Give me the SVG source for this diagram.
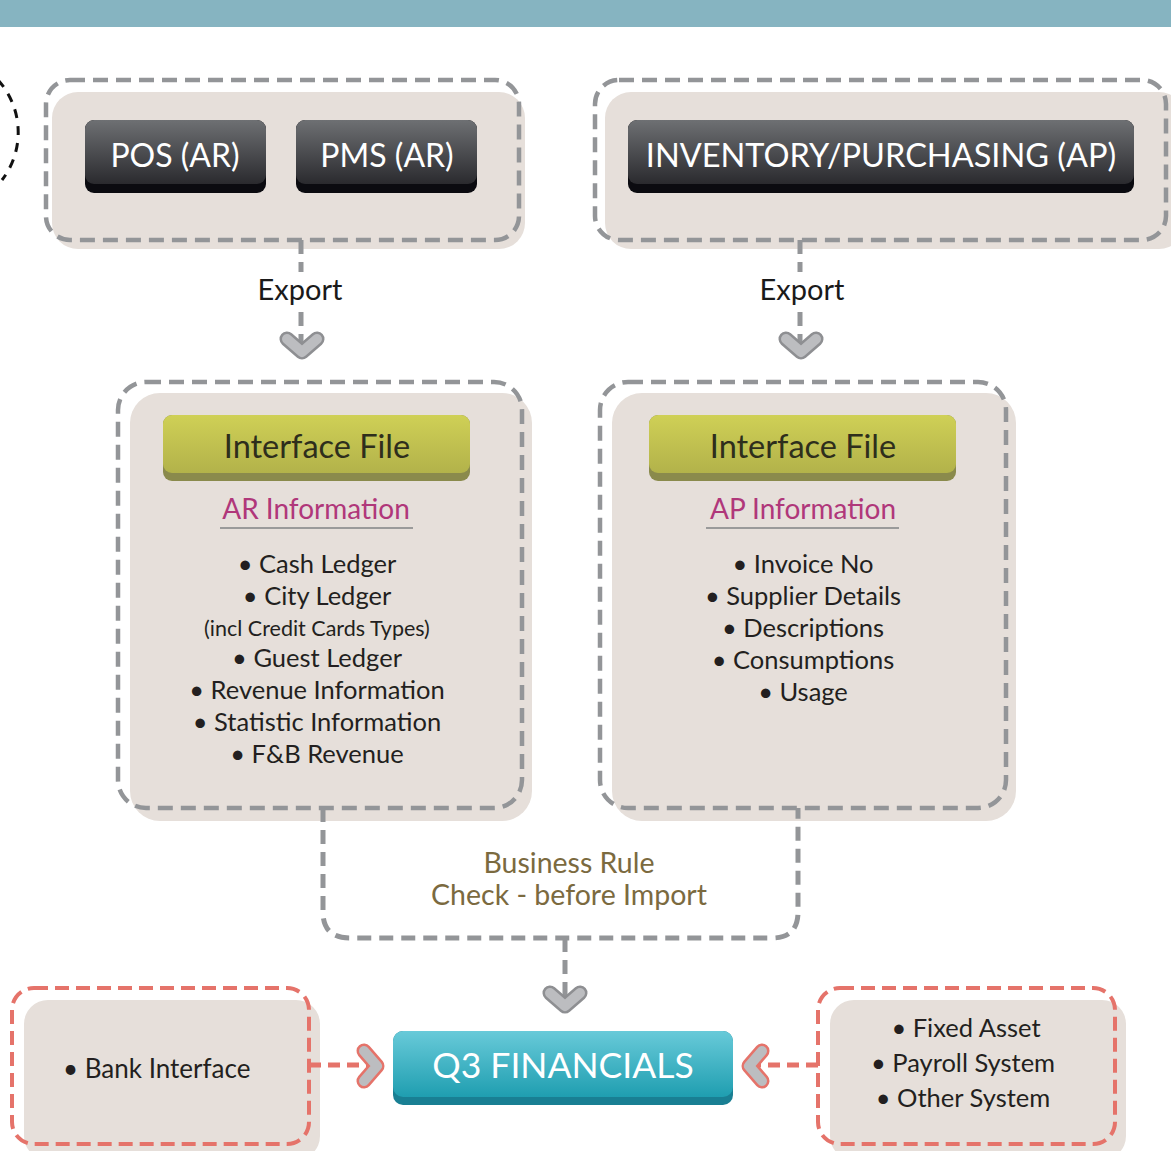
<svg xmlns="http://www.w3.org/2000/svg" width="1171" height="1151" viewBox="0 0 1171 1151">
<defs>
<linearGradient id="gDark" x1="0" y1="0" x2="0" y2="1">
<stop offset="0" stop-color="#6e7073"/><stop offset="1" stop-color="#2a2a2e"/>
</linearGradient>
<linearGradient id="gGreen" x1="0" y1="0" x2="0" y2="1">
<stop offset="0" stop-color="#cfd056"/><stop offset="1" stop-color="#b2b24a"/>
</linearGradient>
<linearGradient id="gTeal" x1="0" y1="0" x2="0" y2="1">
<stop offset="0" stop-color="#68cad9"/><stop offset="1" stop-color="#1f9eb0"/>
</linearGradient>
<style>
.fill{fill:#e6dfda}
.dg{fill:none;stroke:#939598;stroke-width:4.5;stroke-dasharray:15 8}
.dr{fill:none;stroke:#e5736a;stroke-width:4;stroke-dasharray:14 7}
.cg{fill:none;stroke:#939598;stroke-width:5;stroke-dasharray:14 8}
.cr{fill:none;stroke:#e5736a;stroke-width:5;stroke-dasharray:12 7}
.chO{fill:none;stroke:#8e8f92;stroke-width:15;stroke-linecap:round;stroke-linejoin:round}
.chOr{fill:none;stroke:#e5736a;stroke-width:15;stroke-linecap:round;stroke-linejoin:round}
.chI{fill:none;stroke:#bcbdc0;stroke-width:10;stroke-linecap:round;stroke-linejoin:round}
text{font-family:"Lato","Open Sans","Liberation Sans",sans-serif}
.wt{fill:#ffffff;text-anchor:middle}
.bt{fill:#231f20;text-anchor:middle;font-size:25.5px}
.sm{font-size:21.5px}
.gt{fill:#2e2e1c;text-anchor:middle;font-size:32.5px}
.mt{fill:#b0377a;text-anchor:middle;font-size:28px}
.et{fill:#1a1a1a;text-anchor:middle;font-size:29px}
</style>
</defs>
<rect x="0" y="0" width="1171" height="27" fill="#86b4c1"/>
<path d="M -2 80 A 78 78 0 0 1 2 180" fill="none" stroke="#111" stroke-width="3" stroke-dasharray="9 8"/>

<g id="source-ar">
<rect class="fill" x="52" y="92" width="473" height="157" rx="26"/>
<rect class="dg" x="46" y="80" width="473" height="160" rx="24"/>
</g>
<g id="pos">
<rect x="85" y="120" width="181" height="73" rx="9" fill="#0b0b10"/>
<rect x="85" y="120" width="181" height="64" rx="9" fill="url(#gDark)"/>
<text class="wt" x="175" y="167" font-size="32">POS (AR)</text>
</g>
<g id="pms">
<rect x="296" y="120" width="181" height="73" rx="9" fill="#0b0b10"/>
<rect x="296" y="120" width="181" height="64" rx="9" fill="url(#gDark)"/>
<text class="wt" x="387" y="167" font-size="32">PMS (AR)</text>
</g>

<g id="source-ap">
<rect class="fill" x="605" y="92" width="580" height="157" rx="26"/>
<rect class="dg" x="595" y="80" width="571" height="160" rx="24"/>
</g>
<g id="inventory">
<rect x="628" y="120" width="506" height="73" rx="9" fill="#0b0b10"/>
<rect x="628" y="120" width="506" height="64" rx="9" fill="url(#gDark)"/>
<text class="wt" x="881" y="167" font-size="32.5">INVENTORY/PURCHASING (AP)</text>
</g>

<g id="ar-box">
<rect class="fill" x="130" y="393" width="402" height="428" rx="30"/>
<rect class="dg" x="118" y="382" width="404" height="426" rx="28"/>
<rect x="163" y="415" width="307" height="66" rx="9" fill="#8a8a4c"/>
<rect x="163" y="415" width="307" height="58" rx="9" fill="url(#gGreen)"/>
<text class="gt" x="317" y="458">Interface File</text>
<text class="mt" x="316" y="519">AR Information</text>
<line x1="220" y1="528" x2="413" y2="528" stroke="#9a9a9a" stroke-width="2"/>
<text class="bt" x="317" y="573">• Cash Ledger</text>
<text class="bt" x="317" y="605">• City Ledger</text>
<text class="bt sm" x="317" y="636">(incl Credit Cards Types)</text>
<text class="bt" x="317" y="667">• Guest Ledger</text>
<text class="bt" x="317" y="699">• Revenue Information</text>
<text class="bt" x="317" y="731">• Statistic Information</text>
<text class="bt" x="317" y="763">• F&amp;B Revenue</text>
</g>

<g id="ap-box">
<rect class="fill" x="612" y="393" width="404" height="428" rx="30"/>
<rect class="dg" x="600" y="382" width="406" height="426" rx="28"/>
<rect x="649" y="415" width="307" height="66" rx="9" fill="#8a8a4c"/>
<rect x="649" y="415" width="307" height="58" rx="9" fill="url(#gGreen)"/>
<text class="gt" x="803" y="458">Interface File</text>
<text class="mt" x="803" y="519">AP Information</text>
<line x1="706" y1="528" x2="899" y2="528" stroke="#9a9a9a" stroke-width="2"/>
<text class="bt" x="803" y="573">• Invoice No</text>
<text class="bt" x="803" y="605">• Supplier Details</text>
<text class="bt" x="803" y="637">• Descriptions</text>
<text class="bt" x="803" y="669">• Consumptions</text>
<text class="bt" x="803" y="701">• Usage</text>
</g>

<g id="bank-box">
<rect class="fill" x="24" y="1000" width="296" height="160" rx="24"/>
<rect class="dr" x="12" y="988" width="297" height="156" rx="22"/>
<text x="63" y="1078" font-size="26" fill="#231f20">• Bank Interface</text>
</g>

<g id="other-box">
<rect class="fill" x="830" y="1000" width="296" height="160" rx="24"/>
<rect class="dr" x="818" y="988" width="297" height="156" rx="22"/>
<text class="bt" x="966" y="1037">• Fixed Asset</text>
<text class="bt" x="963" y="1072">• Payroll System</text>
<text class="bt" x="963" y="1107">• Other System</text>
</g>

<g id="q3">
<rect x="393" y="1031" width="340" height="74" rx="10" fill="#197f93"/>
<rect x="393" y="1031" width="340" height="66" rx="10" fill="url(#gTeal)"/>
<text class="wt" x="563" y="1078" font-size="35.5">Q3 FINANCIALS</text>
</g>

<g id="connectors">
<line class="cg" x1="301" y1="240" x2="301" y2="272"/>
<line class="cg" x1="301" y1="312" x2="301" y2="345"/>
<text class="et" x="300" y="300">Export</text>
<path class="chO" d="M 287 339 L 302 352 L 317 339"/>
<path class="chI" d="M 287 339 L 302 352 L 317 339"/>

<line class="cg" x1="800" y1="240" x2="800" y2="272"/>
<line class="cg" x1="800" y1="312" x2="800" y2="345"/>
<text class="et" x="802" y="300">Export</text>
<path class="chO" d="M 786 339 L 801 352 L 816 339"/>
<path class="chI" d="M 786 339 L 801 352 L 816 339"/>

<path class="cg" d="M 323 808 L 323 912 Q 323 938 350 938 L 772 938 Q 798 938 798 912 L 798 808"/>
<line class="cg" x1="565" y1="938" x2="565" y2="998"/>
<path class="chO" d="M 550 993 L 565 1006 L 580 993"/>
<path class="chI" d="M 550 993 L 565 1006 L 580 993"/>
<text x="569" y="873" font-size="28.5" fill="#7b6a3f" text-anchor="middle">Business Rule</text>
<text x="569" y="905" font-size="28.5" fill="#7b6a3f" text-anchor="middle">Check - before Import</text>

<line class="cr" x1="309" y1="1065" x2="372" y2="1065"/>
<path class="chOr" d="M 364 1051 L 377 1066 L 364 1081"/>
<path class="chI" d="M 364 1051 L 377 1066 L 364 1081"/>

<line class="cr" x1="818" y1="1065" x2="755" y2="1065"/>
<path class="chOr" d="M 762 1051 L 749 1066 L 762 1081"/>
<path class="chI" d="M 762 1051 L 749 1066 L 762 1081"/>
</g>
</svg>
